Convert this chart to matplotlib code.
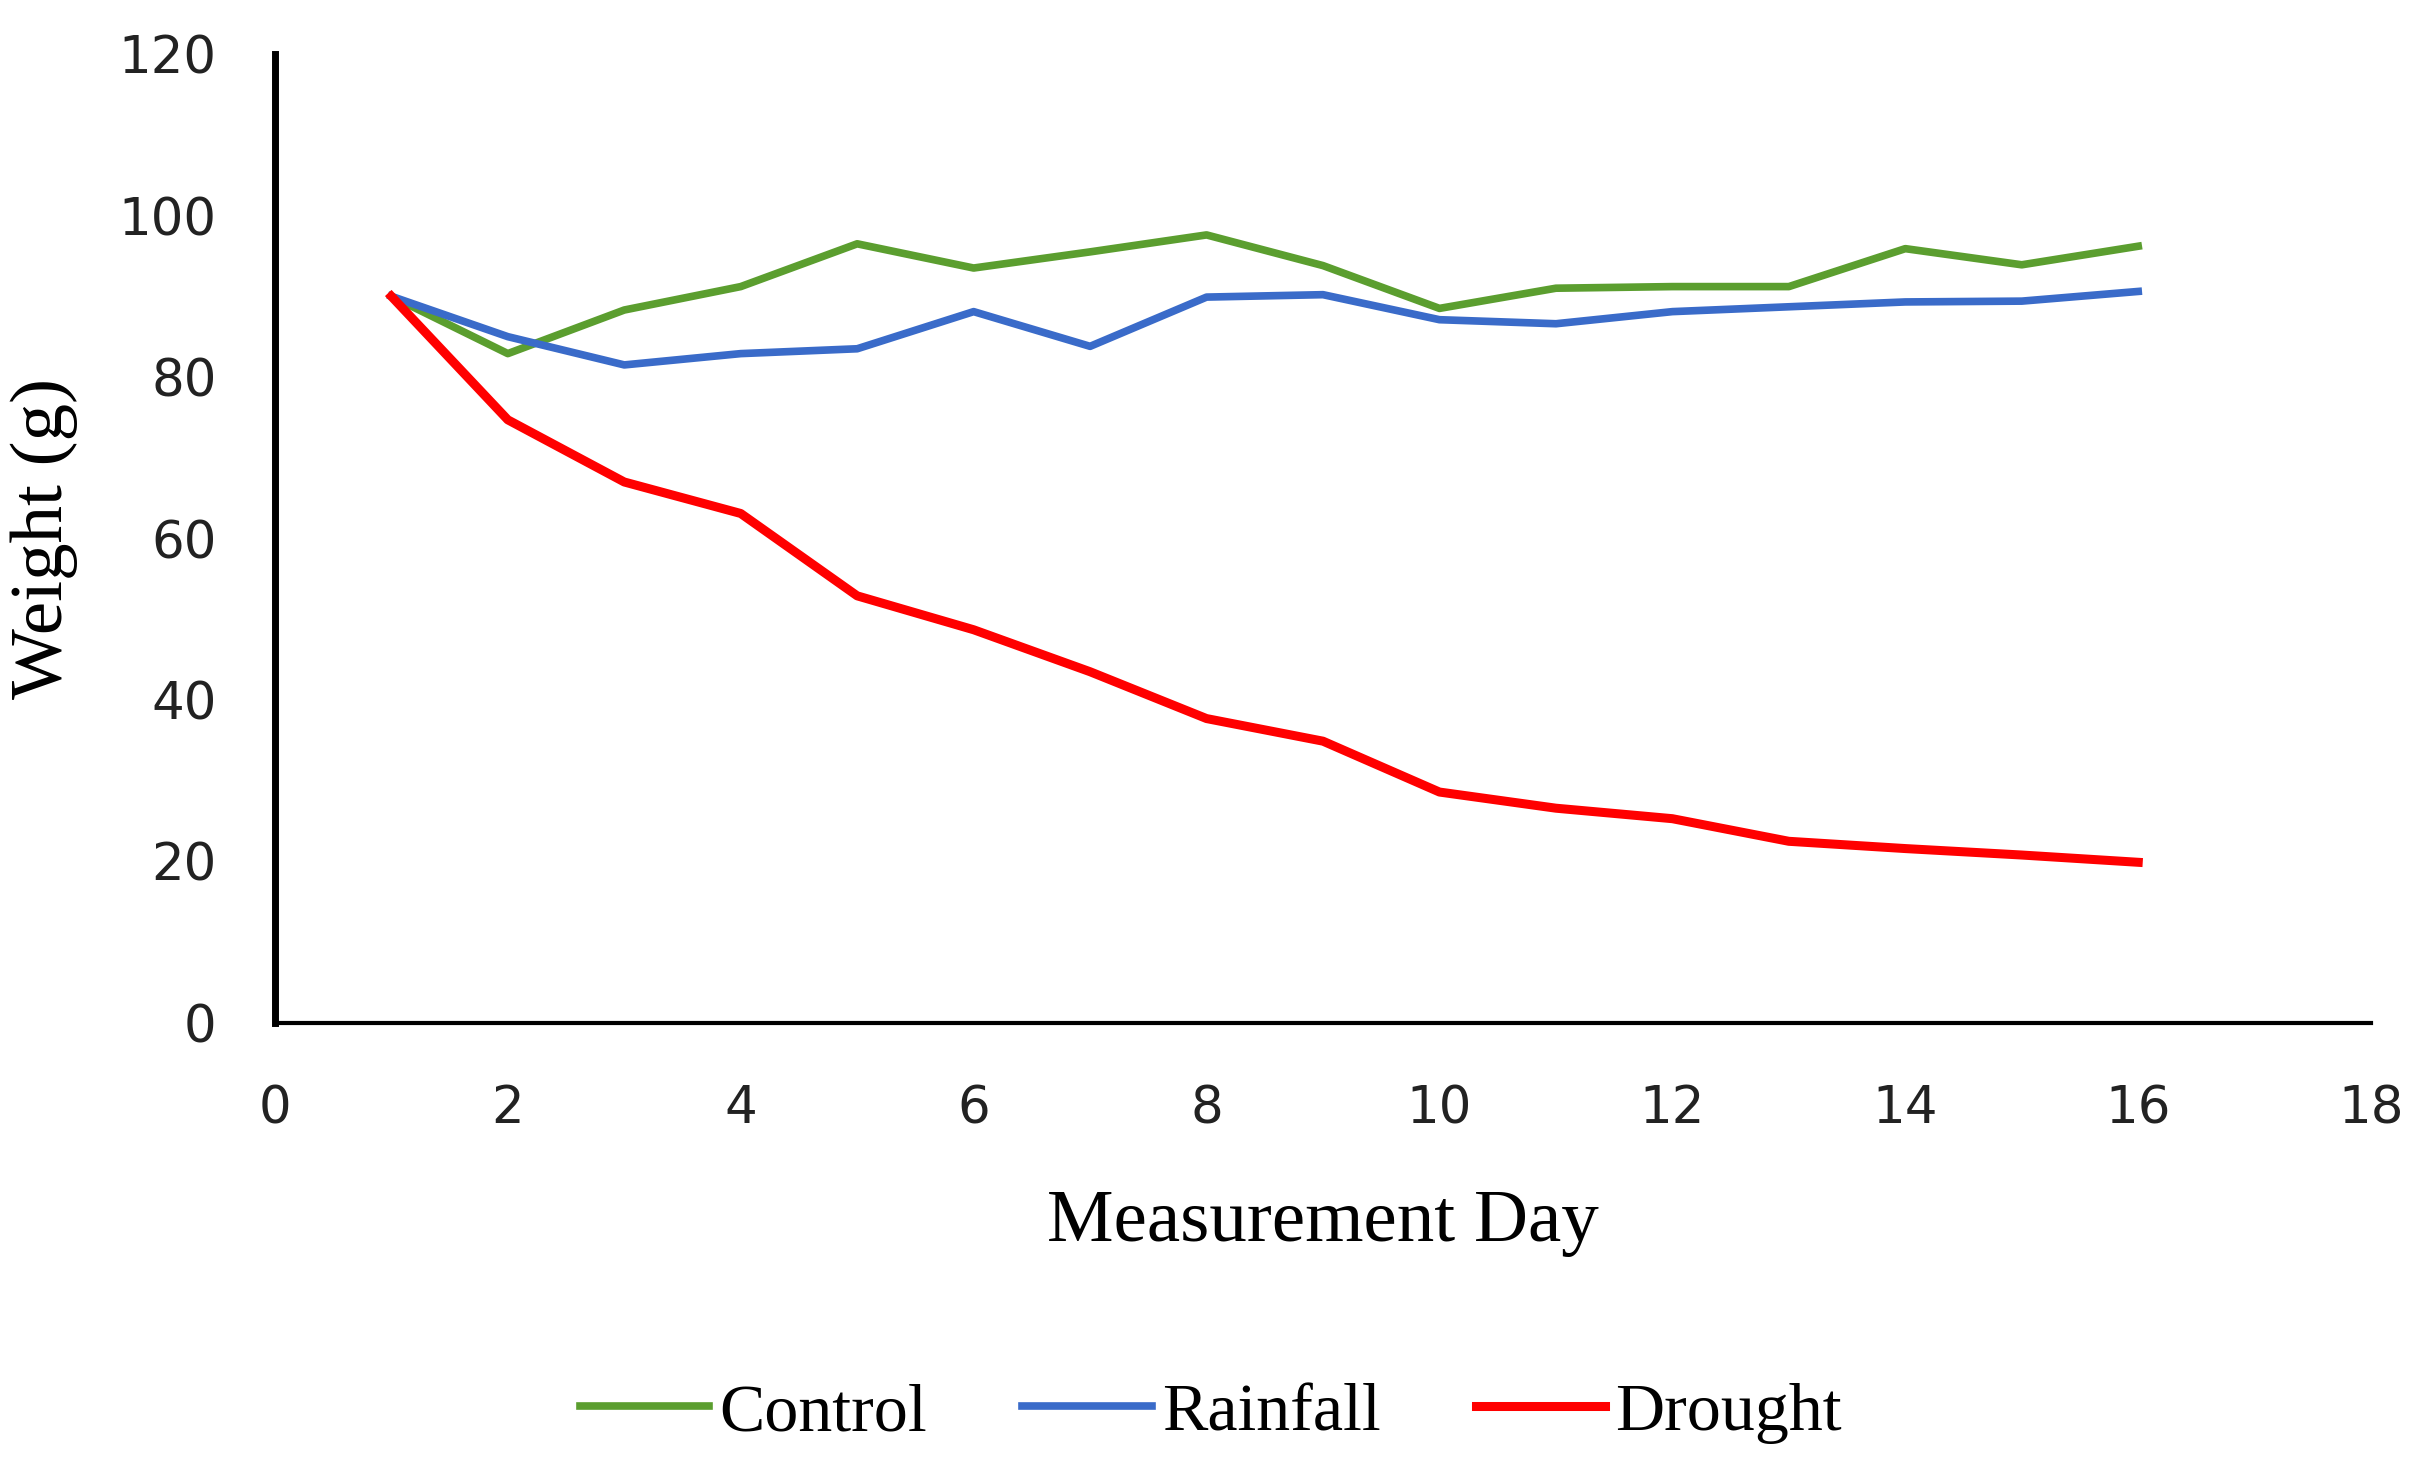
import matplotlib
matplotlib.use("Agg")
import matplotlib.pyplot as plt

days = list(range(1, 17))
control = [90.0, 82.9, 88.3, 91.2, 96.5, 93.5, 95.5, 97.6, 93.8, 88.5, 91.0, 91.2, 91.2, 95.9, 93.9, 96.2]
rainfall = [90.0, 85.0, 81.5, 82.9, 83.5, 88.1, 83.8, 89.9, 90.2, 87.1, 86.6, 88.1, 88.7, 89.3, 89.4, 90.6]
drought = [90.0, 74.7, 67.0, 63.1, 52.9, 48.7, 43.5, 37.7, 34.9, 28.6, 26.6, 25.3, 22.5, 21.6, 20.8, 19.9]

fig = plt.figure(figsize=(24.22, 14.77), dpi=100)
ax = fig.add_axes([0.1135, 0.3074, 0.8655, 0.656])

ax.plot(days, control, color="#5b9e2f", linewidth=5.5, label="Control")
ax.plot(days, rainfall, color="#3a6bc9", linewidth=5.5, label="Rainfall")
ax.plot(days, drought, color="#ff0000", linewidth=6.5, label="Drought")

ax.set_xlim(0, 18)
ax.set_ylim(0, 120)
ax.set_xticks(range(0, 19, 2))
ax.set_yticks(range(0, 121, 20))
ax.tick_params(length=0, labelsize=37, labelcolor="#222222")
ax.tick_params(axis="x", pad=44)
ax.tick_params(axis="y", pad=42)

for s in ["top", "right"]:
    ax.spines[s].set_visible(False)
ax.spines["left"].set_linewidth(5)
ax.spines["bottom"].set_linewidth(3)

serif = "Liberation Serif"
ax.set_xlabel("Measurement Day", fontsize=54, family=serif, labelpad=40)
ax.set_ylabel("Weight (g)", fontsize=54, family=serif)
ax.yaxis.set_label_coords(-0.094, 0.5)

fig.legend(loc="center", bbox_to_anchor=(0.5, 0.043), ncol=3, frameon=False,
           prop={"family": serif, "size": 49}, handlelength=1.9, handletextpad=0.15,
           columnspacing=1.4)

fig.savefig("out.png", dpi=100)
